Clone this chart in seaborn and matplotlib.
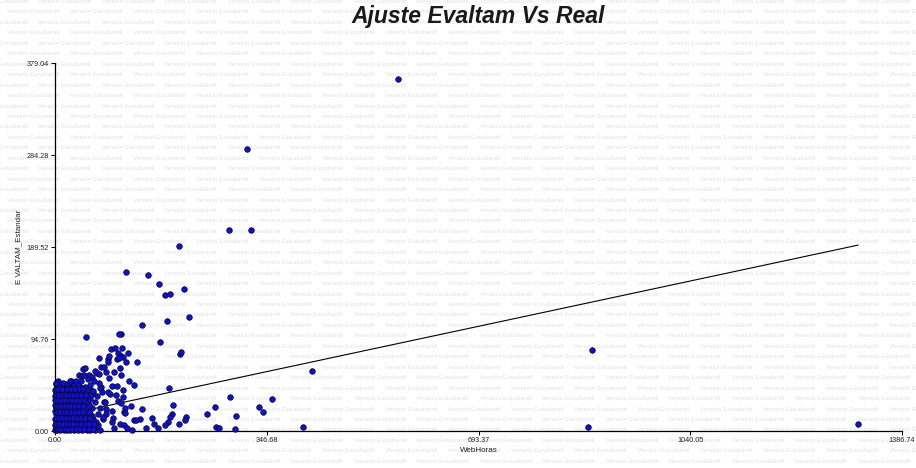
import matplotlib
matplotlib.use("Agg")
import matplotlib.pyplot as plt
import seaborn as sns
import pandas as pd

# ---- data -------------------------------------------------------------
# scattered observations (WebHoras, EVALTAM_Estandar)
web_horas_sparse = [
    561.2, 314.9, 285.5, 321.4, 202.3, 115.8, 151.7, 170.5, 179.5, 187.6,
    210.5, 182.7, 218.6, 141.9, 107.7, 104.4, 50.6, 171.3, 203.9, 205.6,
    879.4, 420.9, 90.9, 97.9, 109.8, 103.3, 120.2, 107.7, 111.4, 86.5,
    100.7, 71.8, 88.6, 115.8, 134.3, 86.0, 104.9, 75.0, 106.0, 96.7,
    107.7, 75.0, 93.8, 101.6, 129.4, 186.5, 111.4, 110.9, 89.7, 103.3,
    107.7, 79.9, 287.1, 355.7, 262.7, 192.5, 142.8, 334.5, 341.0, 83.2,
    112.6, 114.2, 296.9, 249.6, 214.5, 190.9, 188.8, 158.3, 129.2, 138.7,
    95.1, 84.3, 93.5, 106.9, 112.9, 162.3, 202.6, 185.7, 213.1, 263.8,
    269.2, 294.0, 406.2, 149.6, 118.3, 125.6, 96.7, 873.0, 1315.0, 45.2,
    48.5, 39.6, 43.6, 47.3, 56.0, 59.9, 69.0, 71.8, 53.4, 64.1,
    1.6, 13.5, 24.5, 42.4, 86.5, 73.4, 76.2, 99.5, 168.5, 179.5,
    125.0, 132.0, 115.0, 120.5, 62.0, 82.0, 94.0, 78.0,
    66.0, 80.0, 88.0, 58.0, 72.0, 84.0,
]
evaltam_sparse = [
    362.6, 290.5, 207.0, 207.0, 190.6, 163.8, 160.7, 151.4, 140.1, 141.1,
    146.3, 113.3, 117.4, 109.2, 100.4, 99.9, 96.8, 91.2, 79.8, 80.9,
    83.4, 61.8, 84.2, 85.5, 85.5, 80.6, 80.0, 77.3, 76.2, 74.2,
    74.2, 74.9, 77.3, 71.1, 71.1, 71.4, 74.9, 65.6, 65.4, 61.1,
    57.7, 45.6, 46.4, 46.4, 46.9, 44.3, 42.2, 35.3, 37.8, 31.2,
    29.1, 30.2, 35.3, 33.0, 24.7, 26.8, 22.4, 24.4, 19.6, 22.7,
    19.9, 18.2, 15.5, 17.5, 14.9, 17.7, 14.4, 13.9, 11.3, 12.6,
    13.9, 17.2, 9.6, 7.0, 6.2, 7.0, 7.5, 9.5, 11.1, 4.3,
    3.1, 2.4, 4.1, 3.6, 2.6, 1.0, 3.1, 4.1, 7.2, 63.9,
    65.2, 58.0, 56.7, 57.4, 58.0, 55.9, 60.0, 58.4, 53.3, 51.8,
    49.1, 49.1, 51.5, 51.8, 40.5, 44.0, 40.5, 37.1, 2.7, 6.2,
    26.0, 11.0, 24.0, 52.0, 41.0, 30.0, 21.0, 14.0,
    62.0, 66.0, 55.0, 47.0, 49.0, 61.0,
]

# dense group of low-usage observations near the origin
web_horas_dense = [
    0, 3, 8, 14, 19, 25, 31, 37, 44, 52, 58, 66, 73,
    1, 6, 11, 17, 23, 28, 34, 40, 47, 55, 62,
    0, 4, 9, 15, 21, 27, 33, 39, 45, 51, 60, 70,
    2, 7, 12, 18, 24, 30, 36, 42, 49, 57, 67,
    0, 5, 10, 16, 22, 28, 35, 41, 46, 54, 63, 79,
    3, 8, 13, 19, 25, 31, 38, 44, 52, 61,
    1, 6, 11, 17, 23, 29, 34, 41, 48, 57, 71,
    0, 4, 9, 15, 21, 27, 32, 38, 45, 53,
    2, 7, 13, 18, 24, 30, 36, 43, 50, 60, 74,
    0, 5, 11, 16, 22, 28, 34, 40, 47, 55,
    3, 8, 14, 20, 26, 32, 38, 45, 52, 65,
    1, 6, 12, 18, 24, 29, 35, 42, 49, 58,
    0, 4, 10, 16, 21, 27, 33, 39, 46, 54, 68,
    2, 8, 14, 19, 25, 31, 37, 44, 51, 62,
    0, 6, 12, 17, 23, 30, 36, 43, 57,
    3, 9, 15, 22, 28, 34, 41, 49,
    1, 7, 18, 29, 38,
    5, 26, 35,
    4.5, 10, 16, 22, 28.5, 34, 41, 48, 55, 63,
    2, 7, 13, 19, 25, 30, 37, 43, 50, 56, 64,
    1, 6, 12, 18, 24, 30, 36, 42, 49, 58,
    3, 9, 14, 20, 26, 32, 39, 46, 55,
    1, 5, 10, 16, 21, 27, 33, 39, 46, 56,
    0, 5, 11, 17, 23, 28, 35, 41, 48,
    2, 7, 13, 18, 24, 30, 36, 42, 50, 59,
    1, 5, 11, 19, 26, 33, 39, 46,
]
evaltam_dense = (
    [1.0] * 13 + [3.5] * 11 + [6.0] * 12 + [9.0] * 11 + [12.0] * 12
    + [15.0] * 10 + [18.0] * 11 + [21.0] * 10 + [24.0] * 11 + [27.0] * 10
    + [30.0] * 10 + [33.0] * 10 + [36.0] * 11 + [39.0] * 10 + [42.0] * 9
    + [45.0] * 8 + [48.0] * 5 + [52.0] * 3
    + [2.2] * 10 + [7.5] * 11 + [13.5] * 10 + [19.5] * 9 + [25.5] * 10
    + [31.5] * 9 + [37.5] * 10 + [43.5] * 8
)

# fitted line endpoints
fit_x = [0.0, 1315.0]
fit_y = [14.5, 191.5]

x_ticks = [0.0, 346.685, 693.37, 1040.055, 1386.74]
y_ticks = [0.0, 94.76, 189.52, 284.28, 379.04]
x_tick_labels = ["0.00", "346.68", "693.37", "1040.05", "1386.74"]
y_tick_labels = ["0.00", "94.76", "189.52", "284.28", "379.04"]

title_text = "Ajuste Evaltam Vs Real"
x_label = "WebHoras"
y_label = "E VALTAM_Estandar"
watermark = "Versión Estudiantil"

# ---- figure -----------------------------------------------------------
sns.set_theme(style="white")
plt.rcParams["font.family"] = ["Liberation Sans", "DejaVu Sans"]

W, H = 916, 468
fig = plt.figure(figsize=(W / 100, H / 100), dpi=100)
fig.patch.set_facecolor("white")

# tiled background watermark
row_step = 10.45
col_step = 63.0
row = 0
y_px = 1.5
while y_px < H + 8:
    x0 = 7.0 if row % 2 == 1 else 7.0 - col_step / 2
    x_px = x0 - col_step
    while x_px < W + 5:
        fig.text(x_px / W, 1 - y_px / H, watermark, fontsize=4.6,
                 color="#e2e2e2", ha="left", va="center", zorder=0)
        x_px += col_step
    y_px += row_step
    row += 1

ax = fig.add_axes([55 / W, (H - 431) / H, (902 - 55) / W, (431 - 63) / H])
ax.set_zorder(2)
ax.set_facecolor("none")
ax.patch.set_alpha(0)

points = pd.DataFrame({
    "WebHoras": web_horas_dense + web_horas_sparse,
    "EVALTAM": evaltam_dense + evaltam_sparse,
})
fit = pd.DataFrame({"x": fit_x, "y": fit_y})

sns.lineplot(data=fit, x="x", y="y", ax=ax, color="black", linewidth=0.8,
             zorder=2)
sns.scatterplot(data=points, x="WebHoras", y="EVALTAM", ax=ax,
                color="#1010d4", edgecolor="#0a0a28", linewidth=0.55, s=16,
                zorder=3, clip_on=False)

ax.set_xlim(0, 1386.74)
ax.set_ylim(0, 379.04)
ax.set_xticks(x_ticks)
ax.set_xticklabels(x_tick_labels)
ax.set_yticks(y_ticks)
ax.set_yticklabels(y_tick_labels)

for side in ("top", "right"):
    ax.spines[side].set_visible(False)
for side in ("left", "bottom"):
    ax.spines[side].set_color("black")
    ax.spines[side].set_linewidth(0.9)

ax.tick_params(axis="both", which="major", direction="out", length=3,
               width=0.7, color="black", labelsize=5.2, pad=1.5,
               labelcolor="#222222", left=True, bottom=True)

ax.set_xlabel(x_label, fontsize=5.8, color="#222222", labelpad=2)
ax.set_ylabel(y_label, fontsize=5.8, color="#222222", labelpad=3)

fig.text(478 / W, 1 - 17 / H, title_text, fontsize=16.5, fontweight="bold",
         fontstyle="italic", color="#1a1a1a", ha="center", va="center",
         zorder=5)

fig.savefig("out.png", dpi=100, facecolor="white")
